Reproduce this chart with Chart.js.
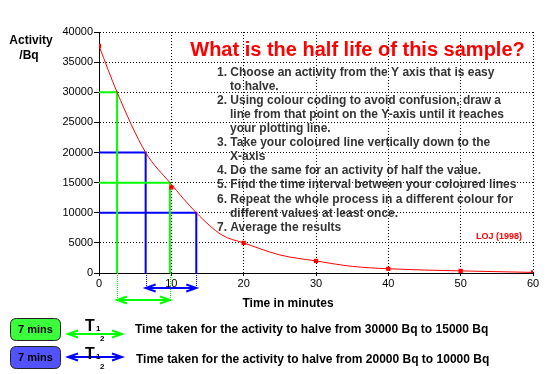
<!DOCTYPE html>
<html><head><meta charset="utf-8">
<script src="https://cdn.jsdelivr.net/npm/chart.js@4/dist/chart.umd.min.js"></script>
<style>html,body{margin:0;padding:0;background:#fff;}#wrap{width:550px;height:374px;}</style>
</head><body><div id="wrap"><canvas id="c" width="550" height="374"></canvas></div>
<script>
// ---- data ----
const markerTimes = [0, 10, 20, 30, 40, 50, 60];
const markerActivity = [37700, 14200, 5000, 2000, 700, 350, 100];
const curveTimes = [0, 2.5, 6.45, 9.8, 13.45, 17, 20, 25, 30, 35, 40, 50, 60];
const curveActivity = [37700, 30000, 20000, 15000, 10000, 6300, 5000, 3000, 2000, 1100, 700, 350, 100];
const greenLevels = [30000, 15000];
const greenTimes = [2.5, 9.8];
const blueLevels = [20000, 10000];
const blueTimes = [6.45, 13.45];
const xTickValues = [0, 10, 20, 30, 40, 50, 60];
const yTickValues = [0, 5000, 10000, 15000, 20000, 25000, 30000, 35000, 40000];
const halfLifeLabels = ['7 mins', '7 mins'];
const chartTitle = 'What is the half life of this sample?';
const yAxisLabel = ['Activity', '/Bq'];
const xAxisLabel = 'Time in minutes';
const credit = 'LOJ (1998)';
const steps = [
  ['1. Choose an activity from the Y axis that is easy', 0],
  ['to halve.', 1],
  ['2. Using colour coding to avoid confusion, draw a', 0],
  ['line from that point on the Y-axis until it reaches', 1],
  ['your plotting line.', 1],
  ['3. Take your coloured line vertically down to the', 0],
  ['X-axis', 1],
  ['4. Do the same for an activity of half the value.', 0],
  ['5. Find the time interval between your coloured lines', 0],
  ['6. Repeat the whole process in a different colour for', 0],
  ['different values at least once.', 1],
  ['7. Average the results', 0]
];

const FONT = '"Liberation Sans", Arial, sans-serif';
const GREEN = '#00ff00', BLUE = '#0000ff', RED = '#ff0000';

function guide(level, t, color, w) {
  return {
    type: 'line',
    data: [{x: 0, y: level}, {x: t, y: level}, {x: t, y: 0}],
    borderColor: color, borderWidth: w, pointRadius: 0, tension: 0, fill: false
  };
}

const datasets = [
  { type: 'line', data: markerTimes.map((t, i) => ({x: t, y: markerActivity[i]})),
    showLine: false, pointStyle: 'rect', pointRadius: 3, pointBackgroundColor: RED, pointBorderColor: RED, borderWidth: 0 },
  { type: 'line', data: curveTimes.map((t, i) => ({x: t, y: curveActivity[i]})),
    borderColor: RED, borderWidth: 1, pointRadius: 0, cubicInterpolationMode: 'monotone', fill: false }
];
greenLevels.forEach((l, i) => datasets.push(guide(l, greenTimes[i], GREEN, 2)));
blueLevels.forEach((l, i) => datasets.push(guide(l, blueTimes[i], BLUE, 2)));

function arrow(ctx, x1, x2, y, color, w) {
  ctx.save();
  ctx.strokeStyle = color; ctx.lineWidth = w; ctx.setLineDash([]);
  ctx.beginPath();
  ctx.moveTo(x1, y); ctx.lineTo(x2, y);
  ctx.moveTo(x1 + 10, y - 3.5); ctx.lineTo(x1, y); ctx.lineTo(x1 + 10, y + 3.5);
  ctx.moveTo(x2 - 10, y - 3.5); ctx.lineTo(x2, y); ctx.lineTo(x2 - 10, y + 3.5);
  ctx.stroke();
  ctx.restore();
}
function roundBox(ctx, x, y, w, h, r, fill) {
  ctx.save();
  ctx.beginPath();
  ctx.moveTo(x + r, y); ctx.lineTo(x + w - r, y); ctx.quadraticCurveTo(x + w, y, x + w, y + r);
  ctx.lineTo(x + w, y + h - r); ctx.quadraticCurveTo(x + w, y + h, x + w - r, y + h);
  ctx.lineTo(x + r, y + h); ctx.quadraticCurveTo(x, y + h, x, y + h - r);
  ctx.lineTo(x, y + r); ctx.quadraticCurveTo(x, y, x + r, y);
  ctx.closePath();
  ctx.fillStyle = fill; ctx.fill();
  ctx.strokeStyle = '#222'; ctx.lineWidth = 1; ctx.stroke();
  ctx.restore();
}

const decor = {
  id: 'decor',
  afterDatasetsDraw(chart) {
    const ctx = chart.ctx, xs = chart.scales.x, ca = chart.chartArea;
    // extensions below the x axis
    const ext = (times, color, depth) => {
      ctx.save(); ctx.strokeStyle = color; ctx.lineWidth = 1; ctx.setLineDash([1, 1]);
      times.forEach(t => { const px = Math.round(xs.getPixelForValue(t)) + 0.5;
        ctx.beginPath(); ctx.moveTo(px, ca.bottom); ctx.lineTo(px, ca.bottom + depth); ctx.stroke(); });
      ctx.restore();
      arrow(ctx, xs.getPixelForValue(times[0]), xs.getPixelForValue(times[1]), ca.bottom + depth - 1, color, 2);
    };
    ext(greenTimes, GREEN, 28);
    ext(blueTimes, BLUE, 16);

    ctx.save();
    // title
    ctx.fillStyle = RED; ctx.font = 'bold 20px ' + FONT; ctx.textAlign = 'center'; ctx.textBaseline = 'alphabetic';
    ctx.fillText(chartTitle, 357.5, 56);
    // instructions
    ctx.fillStyle = '#333'; ctx.font = 'bold 12px ' + FONT; ctx.textAlign = 'left'; ctx.textBaseline = 'middle';
    const ys = [72.5, 86.5, 100.5, 114.5, 128.5, 142.5, 157, 171, 185, 199.5, 214, 228];
    steps.forEach((s, i) => ctx.fillText(s[0], s[1] ? 230 : 217, ys[i]));
    // credit
    ctx.fillStyle = RED; ctx.font = 'bold 9px ' + FONT; ctx.textAlign = 'center';
    ctx.fillText(credit, 499, 237);
    // axis labels
    ctx.fillStyle = '#000'; ctx.font = 'bold 12px ' + FONT;
    ctx.fillText(yAxisLabel[0], 31, 41);
    ctx.fillText(yAxisLabel[1], 29, 56);
    ctx.fillText(xAxisLabel, 288, 304);
    ctx.restore();

    // bottom legend
    const rows = [
      {y: 318, fill: '#3cff3c', color: GREEN, from: greenLevels[0], to: greenLevels[1], tx: 135, ay: 334, ty: 330},
      {y: 346, fill: '#5252ff', color: BLUE, from: blueLevels[0], to: blueLevels[1], tx: 136, ay: 357, ty: 360}
    ];
    rows.forEach((r, i) => {
      roundBox(ctx, 10.5, r.y + 0.5, 50, 22, 6, r.fill);
      ctx.save();
      ctx.fillStyle = '#000'; ctx.font = 'bold 11px ' + FONT; ctx.textAlign = 'center'; ctx.textBaseline = 'middle';
      ctx.fillText(halfLifeLabels[i], 35.5, r.y + 11.5);
      arrow(ctx, 68, 122, r.ay, r.color, 2);
      ctx.fillStyle = '#000'; ctx.font = 'bold 16px ' + FONT; ctx.textAlign = 'left';
      ctx.fillText('T', 85, r.y + 9);
      ctx.font = 'bold 8px ' + FONT;
      ctx.fillText('1', 96, r.y + 11);
      ctx.fillText('2', 100, r.y + 21);
      ctx.font = 'bold 12px ' + FONT;
      ctx.fillText('Time taken for the activity to halve from ' + r.from + ' Bq to ' + r.to + ' Bq', r.tx, r.ty);
      ctx.restore();
    });
  }
};

new Chart(document.getElementById('c'), {
  type: 'line',
  data: { datasets },
  options: {
    responsive: false, animation: false, devicePixelRatio: 1,
    layout: { padding: { left: 0, top: 32, right: 17, bottom: 81 } },
    plugins: { legend: { display: false }, tooltip: { enabled: false }, title: { display: false } },
    scales: {
      x: {
        type: 'linear', min: 0, max: 60,
        afterBuildTicks: s => { s.ticks = xTickValues.map(v => ({value: v})); },
        afterFit: s => { s.height = 20; },
        grid: { color: '#000', lineWidth: 1, tickLength: 3, tickColor: '#000' },
        border: { display: true, color: '#000', width: 1, dash: [1, 2] },
        ticks: { color: '#000', font: { family: FONT, size: 11 }, padding: 1, maxRotation: 0 }
      },
      y: {
        type: 'linear', min: 0, max: 40000,
        afterBuildTicks: s => { s.ticks = yTickValues.map(v => ({value: v})); },
        afterFit: s => { s.width = 99; },
        grid: { color: '#000', lineWidth: 1, tickLength: 5, tickColor: '#000' },
        border: { display: true, color: '#000', width: 1, dash: [1, 2] },
        ticks: { color: '#000', font: { family: FONT, size: 11 }, padding: 1, callback: v => String(v) }
      }
    }
  },
  plugins: [decor]
});
</script>
</body></html>
